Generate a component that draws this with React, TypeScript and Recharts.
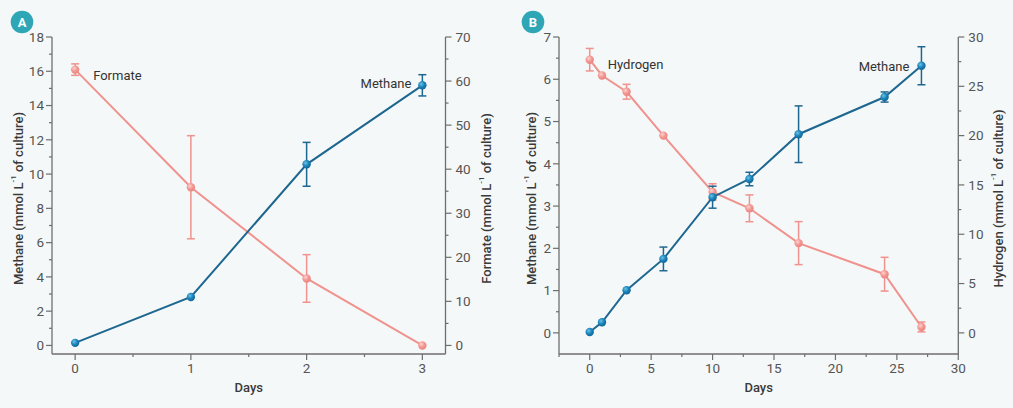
import React from 'react';
import { ComposedChart, Line, XAxis, YAxis, ErrorBar, LabelList, Label } from 'recharts';

// ---------- Panel A data ----------
const daysA = [0, 1, 2, 3];
const methaneA = [0.15, 2.83, 10.57, 15.18];
const methaneAErr = [0, 0, 1.28, 0.62];
const formateA = [62.6, 35.9, 15.2, 0];
const formateAErr = [1.3, 11.7, 5.4, 0];

// ---------- Panel B data ----------
const daysB = [0, 1, 3, 6, 10, 13, 17, 24, 27];
const methaneB = [0.02, 0.25, 1.01, 1.75, 3.21, 3.64, 4.7, 5.58, 6.32];
const methaneBErr = [0, 0, 0, 0.28, 0.26, 0.16, 0.67, 0.12, 0.45];
const hydrogenB = [27.7, 26.1, 24.45, 20.0, 14.3, 12.63, 9.1, 5.95, 0.6];
const hydrogenBErr = [1.14, 0, 0.75, 0, 0.82, 1.36, 2.18, 1.71, 0.5];

// ---------- Ticks ----------
const xMajorA = [0, 1, 2, 3];
const xMinorA = [0.5, 1.5, 2.5];
const yLeftMajorA = [0, 2, 4, 6, 8, 10, 12, 14, 16, 18];
const yLeftMinorA = [1, 3, 5, 7, 9, 11, 13, 15, 17];
const yRightMajorA = [0, 10, 20, 30, 40, 50, 60, 70];
const yRightMinorA = [5, 15, 25, 35, 45, 55, 65];

const xMajorB = [0, 5, 10, 15, 20, 25, 30];
const xMinorB = [-2.5, 2.5, 7.5, 12.5, 17.5, 22.5, 27.5];
const yLeftMajorB = [0, 1, 2, 3, 4, 5, 6, 7];
const yLeftMinorB = [0.5, 1.5, 2.5, 3.5, 4.5, 5.5, 6.5];
const yRightMajorB = [0, 5, 10, 15, 20, 25, 30];
const yRightMinorB = [2.5, 7.5, 12.5, 17.5, 22.5, 27.5];

const dataA = daysA.map((d, i) => ({
  day: d,
  methane: methaneA[i],
  methaneErr: methaneAErr[i],
  formate: formateA[i],
  formateErr: formateAErr[i],
}));

const dataB = daysB.map((d, i) => ({
  day: d,
  methane: methaneB[i],
  methaneErr: methaneBErr[i],
  hydrogen: hydrogenB[i],
  hydrogenErr: hydrogenBErr[i],
}));

const FONT = 'Roboto, "Noto Sans", sans-serif';
const AXIS = '#6e6e6e';
const TICK_TEXT = '#555555';
const LABEL_TEXT = '#3a3a3a';
const BLUE = '#1e6790';
const PINK = '#f0928d';
const BG = '#f5f8f8';
const BADGE = '#2ea6b6';

const sorted = (a: number[], b: number[]) => [...a, ...b].sort((p, q) => p - q);

function makeTick(side: 'left' | 'right' | 'bottom', majors: number[]) {
  return (props: any) => {
    const { x, y, payload } = props;
    const v = payload.value;
    const major = majors.some((m) => Math.abs(m - v) < 1e-9);
    const len = major ? 6 : 3;
    const txt = {
      fontFamily: FONT,
      fontSize: 13.5,
      fill: TICK_TEXT,
    } as any;
    if (side === 'left') {
      return (
        <g>
          <line x1={x} y1={y} x2={x - len} y2={y} stroke={AXIS} strokeWidth={1.2} />
          {major && (
            <text x={x - 8} y={y} dy="0.36em" textAnchor="end" {...txt}>
              {v}
            </text>
          )}
        </g>
      );
    }
    if (side === 'right') {
      return (
        <g>
          <line x1={x} y1={y} x2={x + len} y2={y} stroke={AXIS} strokeWidth={1.2} />
          {major && (
            <text x={x + 10} y={y} dy="0.36em" textAnchor="start" {...txt}>
              {v}
            </text>
          )}
        </g>
      );
    }
    return (
      <g>
        <line x1={x} y1={y} x2={x} y2={y + len} stroke={AXIS} strokeWidth={1.2} />
        {major && (
          <text x={x} y={y + 18.5} textAnchor="middle" {...txt}>
            {v}
          </text>
        )}
      </g>
    );
  };
}

function vertLabel(name: string, offsetX: number) {
  return (props: any) => {
    const vb = props.viewBox || {};
    const cx = vb.x + offsetX;
    const cy = vb.y + vb.height / 2 + 3;
    return (
      <text
        x={cx}
        y={cy}
        transform={`rotate(-90 ${cx} ${cy})`}
        textAnchor="middle"
        dominantBaseline="central"
        fontFamily={FONT}
        fontSize={13}
        fontWeight={500}
        fill={LABEL_TEXT}
      >
        <tspan>{name} (mmol L</tspan>
        <tspan dy={-5} fontSize={8}>
          -1
        </tspan>
        <tspan dy={5}> of culture)</tspan>
      </text>
    );
  };
}

function daysLabel(props: any) {
  const vb = props.viewBox || {};
  return (
    <text
      x={vb.x + vb.width / 2}
      y={vb.y + 38}
      textAnchor="middle"
      fontFamily={FONT}
      fontSize={13}
      fontWeight={500}
      fill={LABEL_TEXT}
    >
      Days
    </text>
  );
}

function makeDot(fill: string) {
  return (p: any) => {
    if (p.cx == null || p.cy == null) return <g key={p.index} />;
    return <circle key={p.index} cx={p.cx} cy={p.cy} r={4.2} fill={fill} />;
  };
}

function seriesName(name: string, index: number, dx: number, dy: number, anchor: string) {
  return (p: any) => {
    if (p.index !== index) return null;
    return (
      <text
        x={p.x + dx}
        y={p.y + dy}
        textAnchor={anchor}
        dominantBaseline="central"
        fontFamily={FONT}
        fontSize={13}
        fill="#333"
      >
        {name}
      </text>
    );
  };
}

function Gradients({ id }: { id: string }) {
  return (
    <defs>
      <radialGradient id={`blue-${id}`} cx="38%" cy="35%" r="65%">
        <stop offset="0%" stopColor="#6cc2ea" />
        <stop offset="55%" stopColor="#1a84b8" />
        <stop offset="100%" stopColor="#14679a" />
      </radialGradient>
      <radialGradient id={`pink-${id}`} cx="38%" cy="35%" r="65%">
        <stop offset="0%" stopColor="#fdd3d0" />
        <stop offset="55%" stopColor="#f29893" />
        <stop offset="100%" stopColor="#ea8580" />
      </radialGradient>
    </defs>
  );
}

function Badge({ letter, left }: { letter: string; left: number }) {
  return (
    <svg
      width={26}
      height={26}
      style={{ position: 'absolute', left: left - 13, top: 22.3 - 13 }}
    >
      <circle cx={13} cy={13} r={11.3} fill={BADGE} />
      <text
        x={13}
        y={13}
        dy="0.36em"
        textAnchor="middle"
        fontFamily={FONT}
        fontSize={13}
        fontWeight={700}
        fill="#ffffff"
      >
        {letter}
      </text>
    </svg>
  );
}

function PanelA() {
  return (
    <ComposedChart
      width={500}
      height={408}
      data={dataA}
      margin={{ top: 37, right: 0, bottom: 0, left: 0 }}
    >
      <Gradients id="a" />
      <XAxis
        dataKey="day"
        type="number"
        domain={[-0.2, 3.2]}
        allowDataOverflow
        ticks={sorted(xMajorA, xMinorA)}
        interval={0}
        tickSize={0}
        tickMargin={0}
        tickLine={false}
        tick={makeTick('bottom', xMajorA)}
        axisLine={{ stroke: AXIS, strokeWidth: 1.3 }}
        height={54}
      >
        <Label content={daysLabel} />
      </XAxis>
      <XAxis
        xAxisId="top"
        orientation="top"
        type="number"
        domain={[-0.2, 3.2]}
        allowDataOverflow
        height={0}
        tick={false}
        tickLine={false}
        axisLine={{ stroke: AXIS, strokeWidth: 1.3 }}
      />
      <YAxis
        yAxisId="left"
        type="number"
        domain={[-0.5, 18]}
        allowDataOverflow
        ticks={sorted(yLeftMajorA, yLeftMinorA)}
        interval={0}
        tickSize={0}
        tickMargin={0}
        tickLine={false}
        tick={makeTick('left', yLeftMajorA)}
        axisLine={{ stroke: AXIS, strokeWidth: 1.3 }}
        width={52}
      >
        <Label content={vertLabel('Methane', 17.5)} />
      </YAxis>
      <YAxis
        yAxisId="right"
        orientation="right"
        type="number"
        domain={[-70 / 36, 70]}
        allowDataOverflow
        ticks={sorted(yRightMajorA, yRightMinorA)}
        interval={0}
        tickSize={0}
        tickMargin={0}
        tickLine={false}
        tick={makeTick('right', yRightMajorA)}
        axisLine={{ stroke: AXIS, strokeWidth: 1.3 }}
        width={54.5}
      >
        <Label content={vertLabel('Formate', 40.5)} />
      </YAxis>
      <Line
        yAxisId="right"
        dataKey="formate"
        stroke={PINK}
        strokeWidth={2}
        dot={makeDot('url(#pink-a)')}
        activeDot={false}
        isAnimationActive={false}
      >
        <ErrorBar dataKey="formateErr" width={4} stroke={PINK} strokeWidth={1.5} direction="y" />
        <LabelList dataKey="formate" content={seriesName('Formate', 0, 18, 6, 'start')} />
      </Line>
      <Line
        yAxisId="left"
        dataKey="methane"
        stroke={BLUE}
        strokeWidth={2}
        dot={makeDot('url(#blue-a)')}
        activeDot={false}
        isAnimationActive={false}
      >
        <ErrorBar dataKey="methaneErr" width={4} stroke={BLUE} strokeWidth={1.5} direction="y" />
        <LabelList dataKey="methane" content={seriesName('Methane', 3, -11, -2, 'end')} />
      </Line>
    </ComposedChart>
  );
}

function PanelB() {
  return (
    <ComposedChart
      width={508}
      height={408}
      data={dataB}
      margin={{ top: 37, right: 0, bottom: 0, left: 0 }}
    >
      <Gradients id="b" />
      <XAxis
        dataKey="day"
        type="number"
        domain={[-2.5, 30]}
        allowDataOverflow
        ticks={sorted(xMajorB, xMinorB)}
        interval={0}
        tickSize={0}
        tickMargin={0}
        tickLine={false}
        tick={makeTick('bottom', xMajorB)}
        axisLine={{ stroke: AXIS, strokeWidth: 1.3 }}
        height={54}
      >
        <Label content={daysLabel} />
      </XAxis>
      <XAxis
        xAxisId="top"
        orientation="top"
        type="number"
        domain={[-2.5, 30]}
        allowDataOverflow
        height={0}
        tick={false}
        tickLine={false}
        axisLine={{ stroke: AXIS, strokeWidth: 1.3 }}
      />
      <YAxis
        yAxisId="left"
        type="number"
        domain={[-0.5, 7]}
        allowDataOverflow
        ticks={sorted(yLeftMajorB, yLeftMinorB)}
        interval={0}
        tickSize={0}
        tickMargin={0}
        tickLine={false}
        tick={makeTick('left', yLeftMajorB)}
        axisLine={{ stroke: AXIS, strokeWidth: 1.3 }}
        width={54}
      >
        <Label content={vertLabel('Methane', 26)} />
      </YAxis>
      <YAxis
        yAxisId="right"
        orientation="right"
        type="number"
        domain={[-30 / 14, 30]}
        allowDataOverflow
        ticks={sorted(yRightMajorB, yRightMinorB)}
        interval={0}
        tickSize={0}
        tickMargin={0}
        tickLine={false}
        tick={makeTick('right', yRightMajorB)}
        axisLine={{ stroke: AXIS, strokeWidth: 1.3 }}
        width={54.7}
      >
        <Label content={vertLabel('Hydrogen', 40)} />
      </YAxis>
      <Line
        yAxisId="right"
        dataKey="hydrogen"
        stroke={PINK}
        strokeWidth={2}
        dot={makeDot('url(#pink-b)')}
        activeDot={false}
        isAnimationActive={false}
      >
        <ErrorBar dataKey="hydrogenErr" width={4} stroke={PINK} strokeWidth={1.5} direction="y" />
        <LabelList dataKey="hydrogen" content={seriesName('Hydrogen', 0, 18, 5, 'start')} />
      </Line>
      <Line
        yAxisId="left"
        dataKey="methane"
        stroke={BLUE}
        strokeWidth={2}
        dot={makeDot('url(#blue-b)')}
        activeDot={false}
        isAnimationActive={false}
      >
        <ErrorBar dataKey="methaneErr" width={4} stroke={BLUE} strokeWidth={1.5} direction="y" />
        <LabelList dataKey="methane" content={seriesName('Methane', 8, -12, 1, 'end')} />
      </Line>
    </ComposedChart>
  );
}

export default function App() {
  return (
    <div
      style={{
        position: 'fixed',
        left: 0,
        top: 0,
        width: 1013,
        height: 408,
        background: BG,
        fontFamily: FONT,
        overflow: 'hidden',
      }}
    >
      <div style={{ position: 'absolute', left: 0, top: 0 }}>
        <PanelA />
      </div>
      <div style={{ position: 'absolute', left: 505, top: 0 }}>
        <PanelB />
      </div>
      <Badge letter="A" left={21.7} />
      <Badge letter="B" left={533.3} />
    </div>
  );
}
